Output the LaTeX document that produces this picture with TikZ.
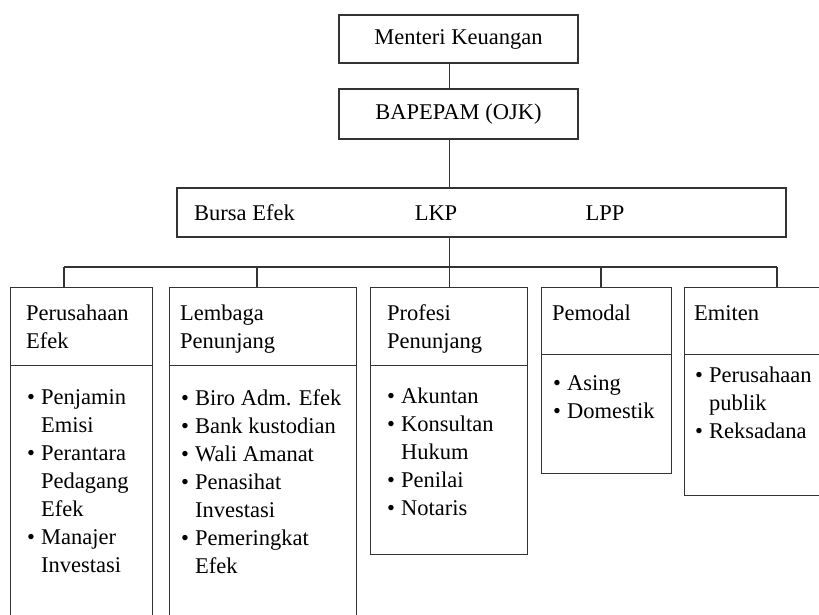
\documentclass[tikz,border=0pt]{standalone}
\usepackage{fontspec}
\setmainfont{Liberation Serif}
\usepackage{array}

\begin{document}
\begin{tikzpicture}[x=1pt,y=-1pt,
    kotak/.style={draw=black!80,line width=1.2pt,rectangle,inner sep=0pt,anchor=north west},
    teks/.style={inner sep=0pt,anchor=base west},
    garis/.style={draw=black!80,line width=1.2pt},
    every node/.style={font=\fontsize{22.5}{28}\selectfont}]
    \useasboundingbox (0,0) rectangle (819,614);
    \clip (0,0) rectangle (819,614);

    \node[kotak,anchor=center,minimum width=239pt,minimum height=48pt] (menteri) at (458.5,39) {Menteri Keuangan};
    \node[kotak,anchor=center,minimum width=239pt,minimum height=50pt] (bapepam) at (458.5,114) {BAPEPAM (OJK)};
    \node[kotak,anchor=center,minimum width=609pt,minimum height=49pt] (pasar) at (481.5,212.5) {};
    \node[teks] (bursa) at (194,220) {Bursa Efek};
    \node[teks,anchor=base] (lkp) at (436,220) {LKP};
    \node[teks,anchor=base] (lpp) at (605,220) {LPP};

    \node[kotak,minimum width=142pt,minimum height=78pt] (pe-judul) at (10,287) {};
    \node[kotak,minimum width=142pt,minimum height=300pt] (pe-isi) at (10,365) {};
    \node[kotak,minimum width=187pt,minimum height=78pt] (lp-judul) at (169,287) {};
    \node[kotak,minimum width=187pt,minimum height=300pt] (lp-isi) at (169,365) {};
    \node[kotak,minimum width=157pt,minimum height=78pt] (pp-judul) at (370,287) {};
    \node[kotak,minimum width=157pt,minimum height=189pt] (pp-isi) at (370,365) {};
    \node[kotak,minimum width=130pt,minimum height=67pt] (pm-judul) at (541,287) {};
    \node[kotak,minimum width=130pt,minimum height=119pt] (pm-isi) at (541,354) {};
    \node[kotak,minimum width=186pt,minimum height=67pt] (em-judul) at (684,287) {};
    \node[kotak,minimum width=186pt,minimum height=141pt] (em-isi) at (684,354) {};

    \node[teks] (pe-nama) at (26,320) {\begin{tabular}[t]{@{}l@{}}Perusahaan\\Efek\end{tabular}};
    \node[teks] (lp-nama) at (180,320) {\begin{tabular}[t]{@{}l@{}}Lembaga\\Penunjang\end{tabular}};
    \node[teks] (pp-nama) at (387,320) {\begin{tabular}[t]{@{}l@{}}Profesi\\Penunjang\end{tabular}};
    \node[teks] (pm-nama) at (552,320) {Pemodal};
    \node[teks] (em-nama) at (694,320) {Emiten};

    \node[teks] (pe-daftar) at (27,404) {\begin{tabular}[t]{@{}p{14pt}@{}l@{}}
        \textbullet & Penjamin\\ & Emisi\\
        \textbullet & Perantara\\ & Pedagang\\ & Efek\\
        \textbullet & Manajer\\ & Investasi\end{tabular}};
    \node[teks] (lp-daftar) at (181,405) {\begin{tabular}[t]{@{}p{14pt}@{}l@{}}
        \textbullet & Biro Adm. Efek\\
        \textbullet & Bank kustodian\\
        \textbullet & Wali Amanat\\
        \textbullet & Penasihat\\ & Investasi\\
        \textbullet & Pemeringkat\\ & Efek\end{tabular}};
    \node[teks] (pp-daftar) at (387,403) {\begin{tabular}[t]{@{}p{14pt}@{}l@{}}
        \textbullet & Akuntan\\
        \textbullet & Konsultan\\ & Hukum\\
        \textbullet & Penilai\\
        \textbullet & Notaris\end{tabular}};
    \node[teks] (pm-daftar) at (553,390) {\begin{tabular}[t]{@{}p{14pt}@{}l@{}}
        \textbullet & Asing\\
        \textbullet & Domestik\end{tabular}};
    \node[teks] (em-daftar) at (695,382) {\begin{tabular}[t]{@{}p{14pt}@{}l@{}}
        \textbullet & Perusahaan\\ & publik\\
        \textbullet & Reksadana\end{tabular}};

    \coordinate (bus-a) at (64,267);
    \coordinate (bus-b) at (257,267);
    \coordinate (bus-d) at (601,267);
    \coordinate (bus-e) at (777,267);

    \draw[garis] (menteri.south -| pp-judul.north) -- (bapepam.north -| pp-judul.north);
    \draw[garis] (bapepam.south -| pp-judul.north) -- (pasar.north -| pp-judul.north);
    \draw[garis] (pasar.south -| pp-judul.north) -- (pp-judul.north);
    \draw[garis] (bus-a) -- (bus-e);
    \draw[garis] (bus-a) -- (bus-a |- pe-judul.north);
    \draw[garis] (bus-b) -- (bus-b |- lp-judul.north);
    \draw[garis] (bus-d) -- (bus-d |- pm-judul.north);
    \draw[garis] (bus-e) -- (bus-e |- em-judul.north);
\end{tikzpicture}
\end{document}
